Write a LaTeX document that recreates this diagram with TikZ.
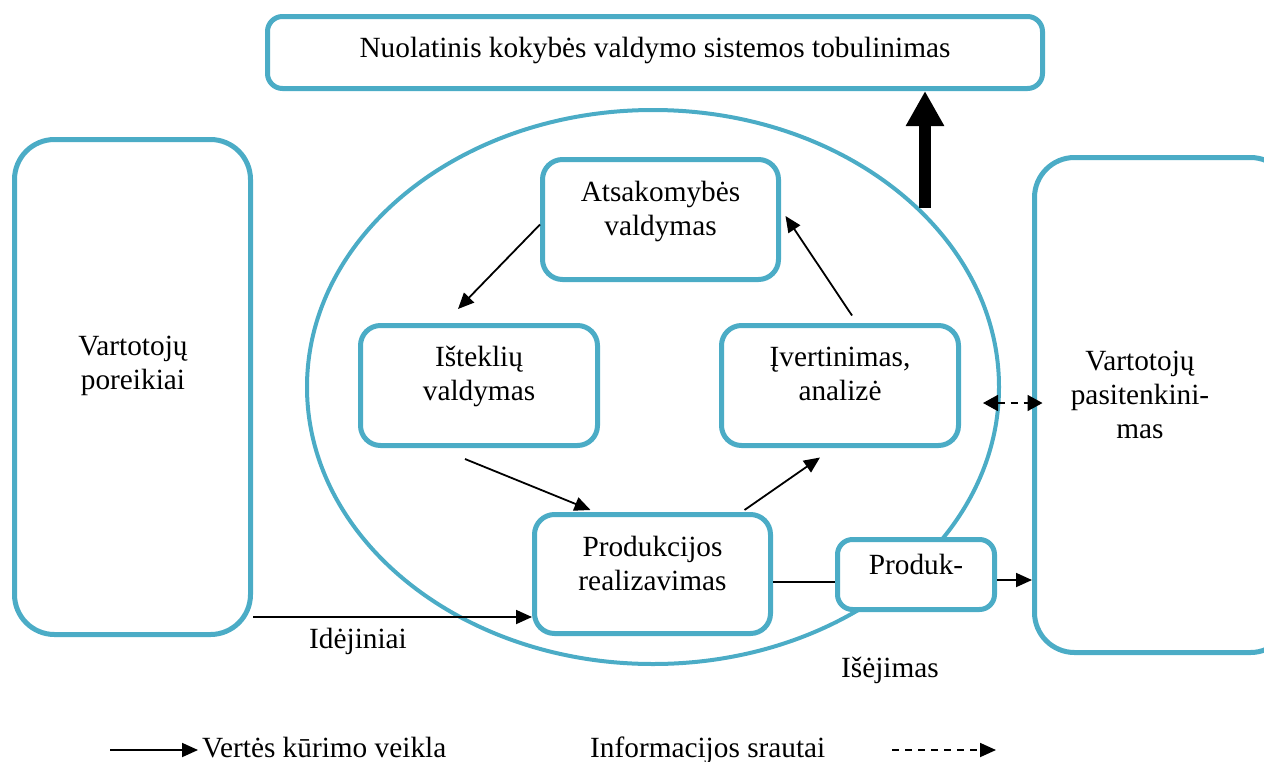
\documentclass[tikz,border=0pt]{standalone}
\usepackage{fontspec}
\setmainfont{Liberation Serif}
\usetikzlibrary{arrows.meta}
\definecolor{boxblue}{HTML}{4BACC6}

\begin{document}
\begin{tikzpicture}[x=1pt,y=-1pt,
  every node/.style={font=\fontsize{29.3}{34}\selectfont},
  frame/.style={draw=boxblue, line width=5pt, fill=white, inner sep=0pt, rounded corners=#1},
  frame/.default=20pt,
  txt/.style={align=center, inner sep=0pt, anchor=base},
  flow/.style={line width=1.8pt, -{Triangle[length=16pt,width=14pt]}},
  info/.style={line width=1.8pt, dash pattern=on 7pt off 6pt},
  bigflow/.style={line width=12pt, -{Triangle[length=35pt,width=36pt]}}
]
\useasboundingbox (0,0) rectangle (1264,761);

% outer process cycle
\draw[boxblue, line width=4pt] (653,387) ellipse [x radius=346, y radius=277];

% top improvement box
\node[frame=15pt, minimum width=775pt, minimum height=72pt] (top) at (655,52.5) {};
\node[txt] (toptxt) at (655,57) {Nuolatinis kokybės valdymo sistemos tobulinimas};

% customer boxes (multi-line labels are placed by their last baseline)
\node[frame=40pt, minimum width=236pt, minimum height=495pt] (left) at (132.5,387) {};
\node[txt] (lefttxt) at (133,389) {Vartotojų\\poreikiai};
\begin{scope}
  \clip (0,0) rectangle (1264,761);
  \node[frame=40pt, minimum width=256pt, minimum height=495pt] (right) at (1162.5,405) {};
\end{scope}
\node[txt] (righttxt) at (1140,438) {Vartotojų\\pasitenkini-\\mas};

% inner cycle boxes
\node[frame, minimum width=236pt, minimum height=120pt] (ats) at (660.5,219.5) {};
\node[txt] (atstxt) at (660.5,235) {Atsakomybės\\valdymas};
\node[frame, minimum width=237pt, minimum height=120pt] (ist) at (479,385.5) {};
\node[txt] (isttxt) at (479,400) {Išteklių\\valdymas};
\node[frame, minimum width=237pt, minimum height=120pt] (ivr) at (840,385.5) {};
\node[txt] (ivrtxt) at (840,400) {Įvertinimas,\\analizė};
\node[frame, minimum width=236pt, minimum height=119pt] (prod) at (652.5,574) {};
\node[txt] (prodtxt) at (652.5,590) {Produkcijos\\realizavimas};
\node[frame=15pt, minimum width=157pt, minimum height=70pt] (prd) at (916,574.5) {};
\node[txt] (prdtxt) at (916,574) {Produk-};

% cycle connectors
\draw[flow] ([yshift=-5pt]ats.west) -- ([xshift=-21pt,yshift=14pt]ist.north);
\draw[flow] ([xshift=-14pt,yshift=-11pt]ist.south) -- ([xshift=-62pt,yshift=2pt]prod.north);
\draw[flow] ([xshift=92pt,yshift=2pt]prod.north) -- ([xshift=-20pt,yshift=-9.5pt]ivr.south);
\draw[flow] ([xshift=12pt,yshift=7.5pt]ivr.north) -- ([xshift=4.5pt,yshift=3.5pt]ats.east);

% improvement arrow
\coordinate (upstart) at (925,208);
\draw[bigflow] (upstart) -- (upstart |- top.south);

% input and output flows
\draw[flow] ([yshift=-230pt]left.east) -- ([yshift=-43pt]prod.west);
\node[txt] (idtxt) at (358,648) {Idėjiniai};
\draw[line width=1.8pt] ([yshift=-8pt]prod.east) -- ([yshift=-7.5pt]prd.west);
\coordinate (pout) at ([yshift=-5.5pt]prd.east);
\draw[flow] (pout) -- (pout -| right.west);
\node[txt] (outtxt) at (890,677) {Išėjimas};

% feedback between evaluation and customers
\coordinate (fbl) at (983,403);
\draw[info, {Triangle[length=15pt,width=16pt]}-{Triangle[length=15pt,width=16pt]}] (fbl) -- ([xshift=10.5pt]fbl -| right.west);

% legend
\coordinate (lga) at (110,750);
\coordinate (lgb) at (198,750);
\draw[flow] (lga) -- (lgb);
\node[txt, anchor=base west] (lgtxt1) at (202,757) {Vertės kūrimo veikla};
\node[txt, anchor=base west] (lgtxt2) at (590,757) {Informacijos srautai};
\coordinate (lgc) at (892,750);
\coordinate (lgd) at (996,750);
\draw[info, -{Triangle[length=16pt,width=14pt]}] (lgc) -- (lgd);
\end{tikzpicture}
\end{document}
